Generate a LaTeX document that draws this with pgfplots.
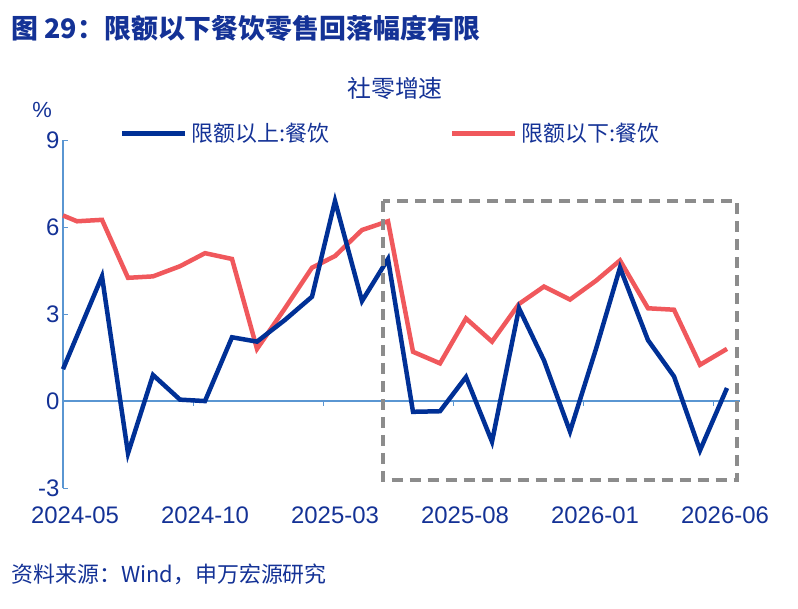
\documentclass[border=0pt]{standalone}
\usepackage{pgfplots}
\pgfplotsset{compat=1.18}
\usepackage{fontspec}
\setmainfont{Liberation Sans}
\newfontfamily\cjk{Noto Sans CJK SC}
\definecolor{tblue}{RGB}{20,50,150}
\definecolor{lblue}{RGB}{0,48,150}
\definecolor{lred}{RGB}{240,88,92}
\definecolor{axblue}{RGB}{90,150,210}
\begin{document}
\begin{tikzpicture}
\begin{axis}[x=1bp,y=29bp,xmin=63,xmax=740,ymin=-3,ymax=9,clip=false,
 axis x line*=bottom, axis y line*=left, axis line style={axblue,line width=1.2bp},
 x axis line style={draw=none},
 ytick={-3,0,3,6,9}, yticklabels={-3,0,3,6,9}, ytick style={axblue,line width=1bp}, major tick length=5bp,
 yticklabel style={font=\fontsize{24}{28}\selectfont,text=tblue},
 xtick={75,205,335,465,595,725},
 xticklabels={2024-05,2024-10,2025-03,2025-08,2026-01,2026-06},
 xtick style={draw=none},
 xticklabel style={font=\fontsize{24}{28}\selectfont,text=tblue,yshift=-15bp},
]
\draw[axblue,line width=1.2bp] (axis cs:63,0)--(axis cs:740,0);
\pgfplotsinvokeforeach{193,323,453,583,713}{\draw[axblue,line width=1bp] (axis cs:#1,0)--(axis cs:#1,-0.18);}
\addplot[lred,line width=4.5bp] coordinates {(63,6.4)(77,6.2)(102,6.25)(128,4.25)(153,4.3)(180,4.65)(205,5.1)(232,4.9)(257,1.8)(285,3.2)(312,4.6)(335,5.0)(362,5.9)(388,6.2)(413,1.7)(440,1.3)(466,2.85)(492,2.05)(519,3.35)(544,3.95)(570,3.5)(596,4.15)(620,4.85)(648,3.2)(674,3.15)(700,1.25)(727,1.8)};
\addplot[lblue,line width=4.5bp] coordinates {(63,1.1)(102,4.3)(128,-1.8)(153,0.9)(180,0.05)(205,0.0)(232,2.2)(257,2.05)(285,2.8)(312,3.6)(335,6.9)(362,3.45)(388,4.9)(413,-0.37)(440,-0.35)(466,0.83)(492,-1.4)(519,3.2)(544,1.4)(570,-1.05)(596,1.8)(620,4.6)(648,2.1)(674,0.85)(700,-1.7)(727,0.45)};
\draw[gray!90,line width=4bp,dash pattern=on 11bp off 7bp] (axis cs:383,6.9) rectangle (axis cs:737,-2.73);
\draw[lblue,line width=5bp] (axis cs:122,9.24)--(axis cs:185,9.24);
\node[anchor=west,text=tblue,font=\cjk\fontsize{22}{25}\selectfont] at (axis cs:188,9.24) {限额以上:餐饮};
\draw[lred,line width=5bp] (axis cs:452,9.24)--(axis cs:515,9.24);
\node[anchor=west,text=tblue,font=\cjk\fontsize{22}{25}\selectfont] at (axis cs:518,9.24) {限额以下:餐饮};
\node[text=tblue,font=\cjk\fontsize{24}{28}\selectfont] at (axis cs:395,10.79) {社零增速};
\node[text=tblue,font=\fontsize{22}{26}\selectfont] at (axis cs:42,10.03) {\%};
\node[anchor=west,text=tblue,font=\cjk\bfseries\fontsize{27}{30}\selectfont] at (axis cs:8,12.86) {图 29：限额以下餐饮零售回落幅度有限};
\node[anchor=west,text=tblue,font=\cjk\fontsize{22}{26}\selectfont] at (axis cs:8,-5.99) {资料来源：Wind，申万宏源研究};
\path (axis cs:0,-7.14) rectangle (axis cs:798,13.83);
\end{axis}
\end{tikzpicture}
\end{document}
